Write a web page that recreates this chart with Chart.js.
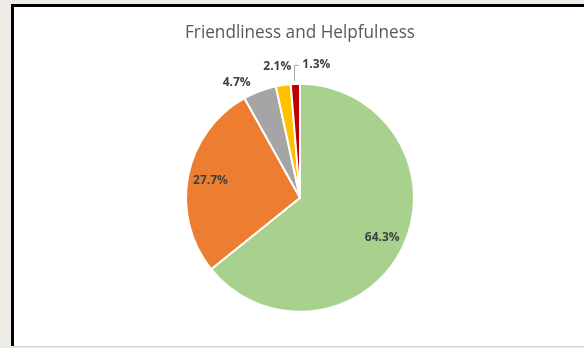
<!DOCTYPE html>
<html>
<head>
<meta charset="utf-8">
<script src="https://cdn.jsdelivr.net/npm/chart.js@4"></script>
<style>
  html, body { margin: 0; padding: 0; background: #eeece5; }
  #wrap { position: absolute; left: 0; top: 0; width: 584px; height: 348px; }
</style>
</head>
<body>
<div id="wrap"><canvas id="pieChart" width="584" height="348"></canvas></div>
<script>
const categories = ['Excellent', 'Good', 'Average', 'Poor', 'Very poor'];
const percentages = [64.3, 27.7, 4.7, 2.1, 1.3];
const sliceColors = ['#a9d18e', '#ed7d31', '#a5a5a5', '#ffc000', '#c00000'];

// nudges for the outside labels so they sit where Excel put them
const outsideNudge = [[0, 0], [0, 0], [-16, 10], [-3, 1], [0, 0]];

// frame behind the chart: beige page, black left/top border, white plot
const framePlugin = {
    id: 'frame',
    beforeDraw(chart) {
        const ctx = chart.ctx;
        ctx.save();
        ctx.fillStyle = '#eeece5';
        ctx.fillRect(0, 0, chart.width, chart.height);
        ctx.fillStyle = '#ffffff';
        ctx.fillRect(13, 6, chart.width - 13, 340);
        ctx.fillStyle = '#000000';
        ctx.fillRect(11, 4, 3, 342);
        ctx.fillRect(11, 4, chart.width - 11, 3);
        ctx.fillStyle = '#d4d4d4';
        ctx.fillRect(13, 346, chart.width - 13, 1);
        ctx.restore();
    }
};

// percentage labels, inside for big slices, outside for small ones
const labelPlugin = {
    id: 'sliceLabels',
    afterDatasetsDraw(chart) {
        const ctx = chart.ctx;
        const meta = chart.getDatasetMeta(0);
        ctx.save();
        ctx.font = 'bold 12px "Open Sans"';
        ctx.fillStyle = '#404040';
        ctx.textAlign = 'center';
        ctx.textBaseline = 'middle';
        meta.data.forEach((arc, i) => {
            const { x, y, startAngle, endAngle, outerRadius } = arc.getProps(['x', 'y', 'startAngle', 'endAngle', 'outerRadius'], true);
            const mid = (startAngle + endAngle) / 2;
            const text = percentages[i].toFixed(1) + '%';
            if (percentages[i] > 10) {
                const r = outerRadius * 0.8;
                ctx.fillText(text, x + Math.cos(mid) * r, y + Math.sin(mid) * r);
            } else if (i < percentages.length - 1) {
                const r = outerRadius + 20;
                ctx.fillText(text, x + Math.cos(mid) * r + outsideNudge[i][0], y + Math.sin(mid) * r + outsideNudge[i][1]);
            } else {
                // last slice: leader line up, then label to the right
                const ex = x + Math.cos(mid) * outerRadius;
                const ey = y + Math.sin(mid) * outerRadius;
                ctx.strokeStyle = '#a6a6a6';
                ctx.lineWidth = 1;
                ctx.beginPath();
                ctx.moveTo(Math.round(ex) - 0.5, ey - 3);
                ctx.lineTo(Math.round(ex) - 0.5, ey - 18.5);
                ctx.lineTo(Math.round(ex) + 4, ey - 18.5);
                ctx.stroke();
                ctx.textAlign = 'left';
                ctx.fillText(text, ex + 7, ey - 19);
                ctx.textAlign = 'center';
            }
        });
        ctx.restore();
    }
};

new Chart(document.getElementById('pieChart'), {
    type: 'pie',
    data: {
        labels: categories,
        datasets: [{
            data: percentages,
            backgroundColor: sliceColors,
            borderColor: '#ffffff',
            borderWidth: 2
        }]
    },
    options: {
        responsive: false,
        animation: false,
        layout: { padding: { top: 0, left: 185, right: 169, bottom: 35 } },
        plugins: {
            legend: { display: false },
            tooltip: { enabled: false },
            title: {
                display: true,
                text: 'Friendliness and Helpfulness',
                color: '#595959',
                font: { family: '"Open Sans"', size: 18, weight: 'normal' },
                padding: { top: 22, bottom: 39 }
            }
        }
    },
    plugins: [framePlugin, labelPlugin]
});
</script>
</body>
</html>
